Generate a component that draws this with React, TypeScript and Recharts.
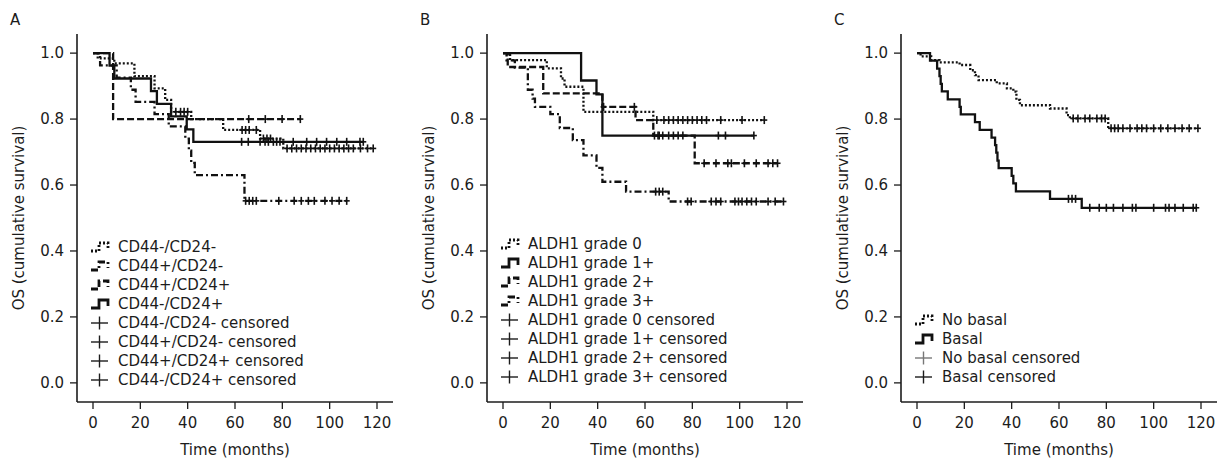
import { ComposedChart, Line, Scatter, XAxis, YAxis, Legend } from 'recharts';

const INK = '#1c1c1c';
const FONT = '"DejaVu Sans", sans-serif';

const monthTicks = [0, 20, 40, 60, 80, 100, 120];
const survTicks = [0, 0.2, 0.4, 0.6, 0.8, 1.0];
const xDomain = [-6.76, 126.76];
const yDomain = [-0.058, 1.058];

// ---- panel A: CD44 / CD24 phenotypes
const aNegNegT = [0, 2, 9, 17.5, 26, 30.5, 33, 41.5, 55, 70.6, 80.4];
const aNegNegS = [1.0, 0.984, 0.969, 0.93, 0.893, 0.858, 0.822, 0.8, 0.767, 0.741, 0.711];
const aNegNegEnd = 118.4;
const aNegNegCens = [35, 37, 38.5, 40, 63, 64.5, 66, 69, 72, 73.5, 75, 82, 84, 86, 88, 90, 92, 94, 96, 98, 100, 102, 104, 106, 108, 110, 113, 116, 118.4];

const aPosNegT = [0, 3, 10, 16, 18, 26, 32, 39, 40.5, 41.5, 43, 64];
const aPosNegS = [1.0, 0.963, 0.926, 0.889, 0.852, 0.815, 0.778, 0.741, 0.704, 0.667, 0.63, 0.552];
const aPosNegEnd = 107.2;
const aPosNegCens = [64.5, 66, 67.5, 69, 78.5, 85, 88, 91, 93.5, 98, 101, 104, 107.2];

const aPosPosT = [0, 8.5];
const aPosPosS = [1.0, 0.8];
const aPosPosEnd = 87.6;
const aPosPosCens = [65.8, 72.8, 79.9, 87.6];

const aNegPosT = [0, 7, 9, 24.5, 27, 33, 39.6, 42.4];
const aNegPosS = [1.0, 0.962, 0.923, 0.885, 0.846, 0.808, 0.769, 0.731];
const aNegPosEnd = 114.2;
const aNegPosCens = [62.8, 65.6, 70.6, 72.7, 74.1, 76.2, 77.6, 79, 84.6, 90.3, 94.5, 98.7, 103, 107.2, 112.8, 114.2];

// ---- panel B: ALDH1 grades
const bG0T = [0, 3, 18.5, 24.5, 26, 34, 63.5];
const bG0S = [1.0, 0.979, 0.954, 0.923, 0.898, 0.822, 0.797];
const bG0End = 110.4;
const bG0Cens = [65, 68, 70, 72, 74, 76, 78, 80, 82, 84, 86, 92, 101, 110.4];

const bG1T = [0, 33, 39.5, 42];
const bG1S = [1.0, 0.917, 0.875, 0.75];
const bG1End = 106;
const bG1Cens = [64, 66, 70, 74, 91, 94, 106];

const bG2T = [0, 2, 17, 42, 56, 63.5, 81];
const bG2S = [1.0, 0.958, 0.878, 0.837, 0.797, 0.75, 0.666];
const bG2End = 116;
const bG2Cens = [42.5, 55.5, 65.5, 67.5, 72, 76, 85, 90, 95, 96.5, 102, 107, 112, 114, 116];

const bG3T = [0, 1.5, 5, 10.5, 12.5, 13.5, 20, 24, 29.5, 34, 39.5, 42, 52, 70];
const bG3S = [1.0, 0.978, 0.956, 0.889, 0.862, 0.837, 0.815, 0.773, 0.736, 0.69, 0.652, 0.61, 0.58, 0.55];
const bG3End = 118.5;
const bG3Cens = [64.5, 66, 67.5, 78, 79.5, 88, 90, 92, 98, 99.5, 101, 103, 105, 107, 112, 115, 118.5];

// ---- panel C: basal phenotype
const cNoT = [0, 1.5, 6, 9.5, 18, 22.5, 24.5, 26, 33.7, 38, 40.7, 42, 43.5, 56.2, 63.2, 64.6, 80.8];
const cNoS = [1.0, 0.99, 0.979, 0.972, 0.964, 0.948, 0.933, 0.918, 0.908, 0.893, 0.883, 0.858, 0.842, 0.832, 0.812, 0.802, 0.772];
const cNoEnd = 118.7;
const cNoCens = [66, 68, 71, 73, 76, 78, 79.5, 82, 83.5, 85, 87, 90, 93, 95, 97, 100, 103, 106, 109, 112, 115, 118.7];

const cBasT = [0, 5.5, 8.5, 9.5, 10, 10.5, 13, 18, 18.5, 24.5, 26.5, 31.5, 33, 33.5, 34, 34.5, 40, 40.7, 41.8, 56.2, 69.6];
const cBasS = [1.0, 0.977, 0.953, 0.93, 0.907, 0.884, 0.86, 0.837, 0.814, 0.791, 0.767, 0.744, 0.721, 0.698, 0.674, 0.651, 0.628, 0.605, 0.581, 0.558, 0.531];
const cBasEnd = 118;
const cBasCens = [64, 65.5, 67, 73, 77, 80, 83, 87, 91, 92.5, 100, 105, 106.5, 109, 112.5, 116.7, 118];

const DOT = '2 2';
const DASH = '7 3';
const DASHDOT = '7 3 2 3';

function stepValue(times: number[], surv: number[], t: number) {
  let v = surv[0];
  for (let i = 0; i < times.length; i++) if (times[i] <= t) v = surv[i];
  return v;
}

function makeCurve(times: number[], surv: number[], end: number, cens: number[], dash?: string) {
  const points = times.map((t, i) => ({ t, s: surv[i] }));
  points.push({ t: end, s: surv[surv.length - 1] });
  const marks = cens.map((t) => ({ t, s: stepValue(times, surv, t) }));
  return { points, marks, dash };
}

const Cross = (props: any) => {
  const { cx, cy } = props;
  if (cx == null || cy == null) return null;
  return (
    <g stroke="#111" strokeWidth={1.6}>
      <line x1={cx} x2={cx} y1={cy - 4} y2={cy + 4} />
      <line x1={cx - 3} x2={cx + 3} y1={cy} y2={cy} />
    </g>
  );
};

type Row = { label: string; dash?: string; cross?: boolean; color?: string };

function KmLegend({ rows }: { rows: Row[] }) {
  return (
    <div style={{ fontFamily: FONT, fontSize: 15, color: INK }}>
      {rows.map((r) => (
        <div key={r.label} style={{ display: 'flex', alignItems: 'center', height: 19, whiteSpace: 'nowrap' }}>
          <svg width={28} height={19} style={{ flex: 'none' }}>
            {r.cross ? (
              <g stroke={r.color || INK} strokeWidth={1.4}>
                <line x1={1} x2={18} y1={10} y2={10} />
                <line x1={9.5} x2={9.5} y1={3.5} y2={16.5} />
              </g>
            ) : (
              <path d="M1,14 H9 V6 H18 V12" fill="none" stroke="#111" strokeWidth={2.8} strokeDasharray={r.dash} />
            )}
          </svg>
          <span>{r.label}</span>
        </div>
      ))}
    </div>
  );
}

function Panel({ left, letter, curves, rows, legendTop }: any) {
  return (
    <div style={{ position: 'absolute', left, top: 0, width: 400, height: 460 }}>
      <div style={{ position: 'absolute', left: 10, top: 11, fontFamily: FONT, fontSize: 15, color: INK }}>{letter}</div>
      <ComposedChart width={400} height={460} margin={{ top: 34, right: 7, bottom: 0, left: 0 }} style={{ fontFamily: FONT }}>
        <XAxis
          dataKey="t"
          type="number"
          domain={xDomain}
          ticks={monthTicks}
          allowDataOverflow
          height={58}
          tickSize={7}
          tickMargin={8}
          axisLine={{ stroke: INK, strokeWidth: 1.6 }}
          tickLine={{ stroke: INK, strokeWidth: 1.3 }}
          tick={{ fill: INK, fontSize: 15 }}
          label={{ value: 'Time (months)', position: 'insideBottom', offset: 5, fill: INK, fontSize: 15 }}
        />
        <YAxis
          type="number"
          domain={yDomain}
          ticks={survTicks}
          allowDataOverflow
          width={77}
          tickSize={7}
          tickMargin={6}
          tickFormatter={(v: number) => v.toFixed(1)}
          axisLine={{ stroke: INK, strokeWidth: 1.6 }}
          tickLine={{ stroke: INK, strokeWidth: 1.3 }}
          tick={{ fill: INK, fontSize: 15 }}
          label={{ value: 'OS (cumulative survival)', angle: -90, position: 'insideLeft', offset: 19, fill: INK, fontSize: 15, style: { textAnchor: 'middle' } }}
        />
        <XAxis xAxisId="top" orientation="top" type="number" domain={xDomain} height={0} tick={false} tickLine={false} axisLine={{ stroke: INK, strokeWidth: 1.6 }} />
        <YAxis yAxisId="right" orientation="right" type="number" domain={yDomain} width={0} tick={false} tickLine={false} axisLine={{ stroke: INK, strokeWidth: 1.6 }} />
        {curves.map((c: any, i: number) => (
          <Line
            key={'l' + i}
            data={c.points}
            dataKey="s"
            type="stepAfter"
            stroke="#111"
            strokeWidth={2.3}
            strokeDasharray={c.dash}
            dot={false}
            activeDot={false}
            legendType="none"
            isAnimationActive={false}
          />
        ))}
        {curves.map((c: any, i: number) => (
          <Scatter key={'c' + i} data={c.marks} dataKey="s" shape={Cross} legendType="none" isAnimationActive={false} />
        ))}
        <Legend
          layout="vertical"
          align="center"
          verticalAlign="middle"
          wrapperStyle={{ left: 90, top: legendTop, width: 'auto' }}
          content={() => <KmLegend rows={rows} />}
        />
      </ComposedChart>
    </div>
  );
}

const curvesA = [
  makeCurve(aNegNegT, aNegNegS, aNegNegEnd, aNegNegCens, DOT),
  makeCurve(aPosNegT, aPosNegS, aPosNegEnd, aPosNegCens, DASHDOT),
  makeCurve(aPosPosT, aPosPosS, aPosPosEnd, aPosPosCens, DASH),
  makeCurve(aNegPosT, aNegPosS, aNegPosEnd, aNegPosCens),
];
const rowsA: Row[] = [
  { label: 'CD44-/CD24-', dash: DOT },
  { label: 'CD44+/CD24-', dash: DASHDOT },
  { label: 'CD44+/CD24+', dash: DASH },
  { label: 'CD44-/CD24+' },
  { label: 'CD44-/CD24- censored', cross: true },
  { label: 'CD44+/CD24- censored', cross: true },
  { label: 'CD44+/CD24+ censored', cross: true },
  { label: 'CD44-/CD24+ censored', cross: true },
];

const curvesB = [
  makeCurve(bG0T, bG0S, bG0End, bG0Cens, DOT),
  makeCurve(bG1T, bG1S, bG1End, bG1Cens),
  makeCurve(bG2T, bG2S, bG2End, bG2Cens, DASH),
  makeCurve(bG3T, bG3S, bG3End, bG3Cens, DASHDOT),
];
const rowsB: Row[] = [
  { label: 'ALDH1 grade 0', dash: DOT },
  { label: 'ALDH1 grade 1+' },
  { label: 'ALDH1 grade 2+', dash: DASH },
  { label: 'ALDH1 grade 3+', dash: DASHDOT },
  { label: 'ALDH1 grade 0 censored', cross: true },
  { label: 'ALDH1 grade 1+ censored', cross: true },
  { label: 'ALDH1 grade 2+ censored', cross: true },
  { label: 'ALDH1 grade 3+ censored', cross: true },
];

const curvesC = [
  makeCurve(cNoT, cNoS, cNoEnd, cNoCens, DOT),
  makeCurve(cBasT, cBasS, cBasEnd, cBasCens),
];
const rowsC: Row[] = [
  { label: 'No basal', dash: DOT },
  { label: 'Basal' },
  { label: 'No basal censored', cross: true, color: '#777' },
  { label: 'Basal censored', cross: true },
];

export default function App() {
  return (
    <div style={{ position: 'absolute', left: 0, top: 0, width: 1218, height: 460, background: '#fff', overflow: 'hidden' }}>
      <Panel left={0} letter="A" curves={curvesA} rows={rowsA} legendTop={237} />
      <Panel left={410} letter="B" curves={curvesB} rows={rowsB} legendTop={234} />
      <Panel left={824} letter="C" curves={curvesC} rows={rowsC} legendTop={310} />
    </div>
  );
}
